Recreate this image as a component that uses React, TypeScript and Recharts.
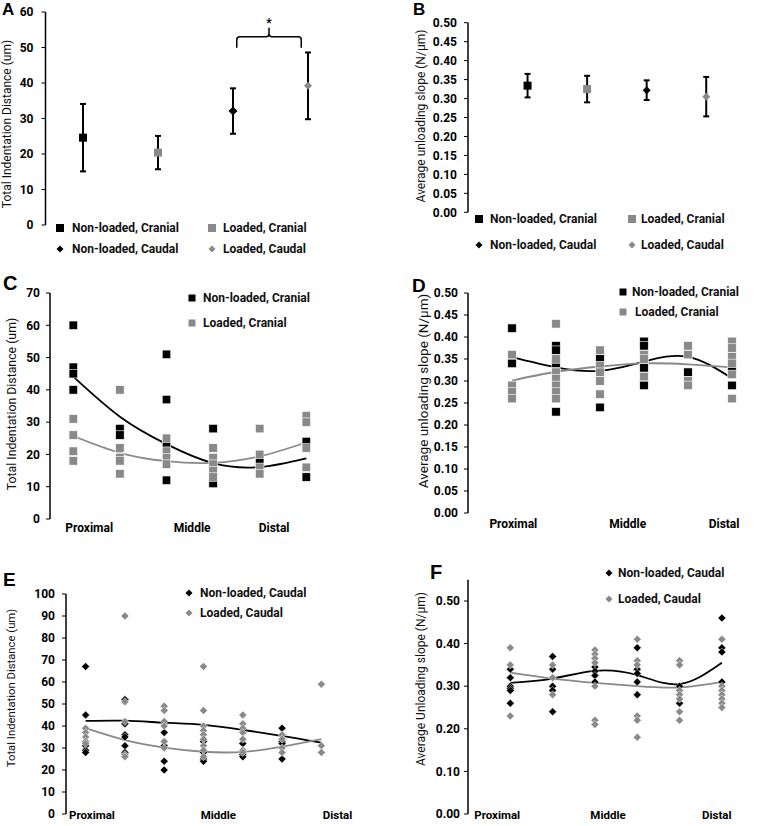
import React from 'react';
import { ComposedChart, Scatter, Line, XAxis, YAxis, ErrorBar, ReferenceLine } from 'recharts';

const FONT = 'Roboto, "Liberation Sans", sans-serif';
const BLACK = '#000000';
const GREY = '#898989';

// group names, in legend order
const groupNames = ['Non-loaded, Cranial', 'Loaded, Cranial', 'Non-loaded, Caudal', 'Loaded, Caudal'];

// A: total indentation distance, mean and SD per group
const indentMean = [24.6, 20.4, 32.1, 39.2];
const indentSd = [9.5, 4.7, 6.4, 9.4];

// B: average unloading slope, mean and SD per group
const slopeMean = [0.334, 0.325, 0.322, 0.305];
const slopeSd = [0.031, 0.035, 0.026, 0.052];

// C: cranial indentation, samples per site (proximal -> distal)
const cNonLoaded = [[60, 47, 45, 40], [28, 26], [51, 37, 23, 12], [28, 11], [18], [24, 13]];
const cLoaded = [[31, 26, 21, 18], [40, 22, 19, 18, 14], [25, 21, 19, 17], [22, 19, 17, 15, 13], [28, 20, 16, 14], [32, 30, 22, 16]];
const cTrendNonLoaded = [44.1, 31.7, 23.2, 17.3, 16.1, 18.8];
const cTrendLoaded = [25.7, 20.5, 17.9, 17.4, 19.4, 23.7];

// D: cranial unloading slope
const dNonLoaded = [[0.42, 0.34], [0.38, 0.37, 0.34, 0.23], [0.35, 0.24], [0.39, 0.38, 0.33, 0.29], [0.32], [0.33, 0.29]];
const dLoaded = [[0.36, 0.29, 0.275, 0.26], [0.43, 0.35, 0.32, 0.305, 0.29, 0.275, 0.26], [0.37, 0.335, 0.32, 0.30, 0.27], [0.36, 0.35, 0.31], [0.38, 0.36, 0.30, 0.29], [0.39, 0.375, 0.355, 0.34, 0.315, 0.26]];
const dTrendNonLoaded = [0.354, 0.331, 0.323, 0.344, 0.355, 0.306];
const dTrendLoaded = [0.301, 0.321, 0.333, 0.34, 0.338, 0.331];

// E: caudal indentation
const eNonLoaded = [[67, 45, 31, 29, 28], [52, 41, 36, 35, 31, 28], [37, 31, 24, 20], [33, 28, 25, 24], [32, 27, 26], [39, 33, 32, 25], []];
const eLoaded = [[39, 37, 35, 33, 32], [90, 51, 42, 27, 26], [49, 47, 42, 40, 33, 30], [67, 47, 40, 38, 36, 34, 31, 29, 26], [45, 41, 39, 37, 34, 29, 28], [36, 34, 30, 28], [59, 31, 28]];
const eTrendNonLoaded = [42.3, 42.4, 41.5, 40.5, 38.2, 35.5, 32.4];
const eTrendLoaded = [39, 33.6, 30.2, 28.3, 28.2, 30.6, 34];

// F: caudal unloading slope
const fNonLoaded = [[0.34, 0.32, 0.30, 0.295, 0.29, 0.26], [0.37, 0.34, 0.30, 0.29, 0.24], [0.345, 0.335, 0.325, 0.31], [0.39, 0.34, 0.33, 0.31, 0.28], [0.30, 0.26], [0.46, 0.39, 0.38, 0.31]];
const fLoaded = [[0.39, 0.35, 0.23], [0.35, 0.32, 0.28], [0.385, 0.375, 0.365, 0.355, 0.30, 0.22, 0.21], [0.41, 0.36, 0.35, 0.23, 0.22, 0.18], [0.36, 0.35, 0.29, 0.28, 0.27, 0.24, 0.22], [0.41, 0.30, 0.29, 0.28, 0.27, 0.26, 0.25]];
const fTrendNonLoaded = [0.308, 0.318, 0.336, 0.326, 0.305, 0.355];
const fTrendLoaded = [0.332, 0.318, 0.308, 0.30, 0.297, 0.31];

const siteLabels = ['Proximal', 'Middle', 'Distal'];
const cSiteAt = [1.34, 3.55, 5.31];
const dSiteAt = [1.03, 3.63, 5.82];
const eSiteAt = [1.16, 4.38, 7.41];
const fSiteAt = [0.69, 3.31, 5.88];

const toPoints = (cols: number[][]) => cols.flatMap((vals, i) => vals.map((y) => ({ x: i + 1, y })));
const toLine = (vals: number[]) => vals.map((y, i) => ({ x: i + 1, y }));

const square = (size: number, color: string, edge = false) => (props: any) => {
  const { cx, cy } = props;
  if (cx == null || cy == null) return <g />;
  return (
    <rect x={cx - size / 2} y={cy - size / 2} width={size} height={size} fill={color}
      stroke={edge ? '#ffffff' : 'none'} strokeWidth={0.6} />
  );
};

const diamond = (size: number, color: string, edge = false) => (props: any) => {
  const { cx, cy } = props;
  if (cx == null || cy == null) return <g />;
  const r = size / 2;
  return (
    <polygon points={`${cx},${cy - r} ${cx + r},${cy} ${cx},${cy + r} ${cx - r},${cy}`} fill={color}
      stroke={edge ? '#ffffff' : 'none'} strokeWidth={0.5} />
  );
};

// curly bracket drawn over the reference segment
const brace = (props: any) => {
  const { x1, x2, y1 } = props;
  const cx = (x1 + x2) / 2;
  const y = y1;
  const d = `M${x1},${y + 11} L${x1},${y + 3} Q${x1},${y} ${x1 + 3},${y} L${cx - 3},${y} Q${cx},${y} ${cx},${y - 3} L${cx},${y - 9}`
    + ` M${cx},${y - 3} Q${cx},${y} ${cx + 3},${y} L${x2 - 3},${y} Q${x2},${y} ${x2},${y + 3} L${x2},${y + 11}`;
  return (
    <g>
      <path d={d} fill="none" stroke={BLACK} strokeWidth={1.5} />
      <text x={cx} y={y - 10} textAnchor="middle" fontSize={12} fontWeight={700} fontFamily={FONT}>*</text>
    </g>
  );
};

const tickStyle = { fontSize: 12, fontWeight: 700, fill: '#000', fontFamily: FONT };

const PanelLetter = ({ x, y, size, text }: { x: number; y: number; size: number; text: string }) => (
  <div style={{ position: 'absolute', left: x, top: y - size * 0.13, fontSize: size, lineHeight: 1, fontWeight: 700, fontFamily: '"Liberation Sans", Arial, sans-serif' }}>{text}</div>
);

const AxisTitle = ({ x, y, size, text }: { x: number; y: number; size: number; text: string }) => (
  <div style={{ position: 'absolute', left: x, top: y, transform: 'translate(-50%, -50%) rotate(-90deg)', whiteSpace: 'nowrap', fontSize: size, fontFamily: FONT, color: '#111' }}>{text}</div>
);

const LegendItem = ({ x, y, textX, shape, color, size = 8, text }: any) => {
  const r = size / 2;
  return (
    <>
      <svg style={{ position: 'absolute', left: x - 6, top: y - 6 }} width={12} height={12}>
        {shape === 'square'
          ? <rect x={6 - r} y={6 - r} width={size} height={size} fill={color} />
          : <polygon points={`6,${6 - r} ${6 + r},6 6,${6 + r} ${6 - r},6`} fill={color} />}
      </svg>
      <div style={{ position: 'absolute', left: textX, top: y - 9, height: 18, lineHeight: '18px', fontSize: 12, fontWeight: 700, fontFamily: FONT, whiteSpace: 'nowrap', color: '#111' }}>{text}</div>
    </>
  );
};

type SiteProps = {
  left: number; top: number; width: number; height: number;
  plotLeft: number; plotTop: number; plotBottom: number; plotRight: number;
  xHeight: number; xDomain: [number, number]; siteAt: number[]; tickMargin: number; xFont?: number;
  yDomain: [number, number]; yTicks: number[]; yDigits: number; yTickMargin: number;
  nonLoaded: number[][]; loaded: number[][]; trendNonLoaded: number[]; trendLoaded: number[];
  marker: 'square' | 'diamond'; size: number;
};

const SitePanel = (p: SiteProps) => {
  const mk = p.marker === 'square' ? square : diamond;
  return (
    <div style={{ position: 'absolute', left: p.left, top: p.top }}>
      <ComposedChart width={p.width} height={p.height}
        margin={{ top: p.plotTop, left: 0, right: p.width - p.plotRight, bottom: p.height - p.plotBottom - p.xHeight }}>
        <XAxis dataKey="x" type="number" domain={p.xDomain} ticks={p.siteAt} interval={0}
          tickFormatter={(_v: number, i: number) => siteLabels[i]} axisLine={false} tickLine={false}
          tickSize={0} tickMargin={p.tickMargin} height={p.xHeight} tick={{ ...tickStyle, fontSize: p.xFont ?? 12 }} />
        <YAxis dataKey="y" type="number" domain={p.yDomain} ticks={p.yTicks} interval={0} width={p.plotLeft}
          tickFormatter={(v: number) => v.toFixed(p.yDigits)} axisLine={{ stroke: BLACK, strokeWidth: 1.5 }}
          tickLine={{ stroke: BLACK }} tickSize={4} tickMargin={p.yTickMargin} tick={tickStyle} />
        <Scatter data={toPoints(p.nonLoaded)} dataKey="y" shape={mk(p.size, BLACK, true)} isAnimationActive={false} />
        <Scatter data={toPoints(p.loaded)} dataKey="y" shape={mk(p.size, GREY, true)} isAnimationActive={false} />
        <Line data={toLine(p.trendNonLoaded)} dataKey="y" type="natural" stroke={BLACK} strokeWidth={1.8} dot={false} isAnimationActive={false} />
        <Line data={toLine(p.trendLoaded)} dataKey="y" type="natural" stroke={GREY} strokeWidth={1.8} dot={false} isAnimationActive={false} />
      </ComposedChart>
    </div>
  );
};

const groupShapes = ['square', 'square', 'diamond', 'diamond'];
const groupColors = [BLACK, GREY, BLACK, GREY];

const App = () => {
  const groupsA = groupNames.map((name, i) => ({ name, pts: [{ x: i + 1, y: indentMean[i], sd: indentSd[i] }] }));
  const groupsB = groupNames.map((name, i) => ({ name, pts: [{ x: i + 1, y: slopeMean[i], sd: slopeSd[i] }] }));
  const markA = [square(8, BLACK), square(8, GREY), diamond(9, BLACK), diamond(8, GREY)];
  const markB = [square(8, BLACK), square(8, GREY), diamond(8, BLACK), diamond(8, GREY)];

  return (
    <div style={{ position: 'absolute', left: 0, top: 0, width: 761, height: 826, background: '#fff', fontFamily: FONT, overflow: 'hidden' }}>
      {/* A */}
      <div style={{ position: 'absolute', left: 0, top: 0 }}>
        <ComposedChart width={380} height={260} margin={{ top: 12, left: 0, right: 34.5, bottom: 35 }}>
          <XAxis dataKey="x" type="number" domain={[0.5, 4.5]} hide />
          <YAxis dataKey="y" type="number" domain={[0, 60]} ticks={[0, 10, 20, 30, 40, 50, 60]} interval={0} width={45.5}
            axisLine={{ stroke: BLACK, strokeWidth: 1.5 }} tickLine={{ stroke: BLACK }} tickSize={4} tickMargin={8} tick={tickStyle} />
          {groupsA.map((g, i) => (
            <Scatter key={g.name} data={g.pts} dataKey="y" shape={markA[i]} isAnimationActive={false}>
              <ErrorBar dataKey="sd" direction="y" width={3} stroke={BLACK} strokeWidth={2} />
            </Scatter>
          ))}
          <ReferenceLine segment={[{ x: 3.05, y: 53 }, { x: 3.91, y: 53 }]} shape={brace} />
        </ComposedChart>
      </div>

      {/* B */}
      <div style={{ position: 'absolute', left: 380, top: 0 }}>
        <ComposedChart width={381} height={260} margin={{ top: 22.7, left: 0, right: 25, bottom: 47.7 }}>
          <XAxis dataKey="x" type="number" domain={[0, 4.5]} hide />
          <YAxis dataKey="y" type="number" domain={[0, 0.5]} ticks={[0, 0.05, 0.1, 0.15, 0.2, 0.25, 0.3, 0.35, 0.4, 0.45, 0.5]}
            interval={0} width={88} tickFormatter={(v: number) => v.toFixed(2)}
            axisLine={{ stroke: BLACK, strokeWidth: 1.5 }} tickLine={{ stroke: BLACK }} tickSize={4} tickMargin={7} tick={tickStyle} />
          {groupsB.map((g, i) => (
            <Scatter key={g.name} data={g.pts} dataKey="y" shape={markB[i]} isAnimationActive={false}>
              <ErrorBar dataKey="sd" direction="y" width={3} stroke={BLACK} strokeWidth={2} />
            </Scatter>
          ))}
        </ComposedChart>
      </div>

      {/* C */}
      <SitePanel left={0} top={260} width={380} height={290} plotLeft={50} plotTop={33} plotBottom={259} plotRight={329.6}
        xHeight={22} xDomain={[0.5, 6.5]} siteAt={cSiteAt} tickMargin={4}
        yDomain={[0, 70]} yTicks={[0, 10, 20, 30, 40, 50, 60, 70]} yDigits={0} yTickMargin={6}
        nonLoaded={cNonLoaded} loaded={cLoaded} trendNonLoaded={cTrendNonLoaded} trendLoaded={cTrendLoaded}
        marker="square" size={8.5} />

      {/* D */}
      <SitePanel left={380} top={260} width={381} height={290} plotLeft={88} plotTop={33} plotBottom={253} plotRight={374}
        xHeight={25} xDomain={[0, 6.5]} siteAt={dSiteAt} tickMargin={6}
        yDomain={[0, 0.5]} yTicks={[0, 0.05, 0.1, 0.15, 0.2, 0.25, 0.3, 0.35, 0.4, 0.45, 0.5]} yDigits={2} yTickMargin={6}
        nonLoaded={dNonLoaded} loaded={dLoaded} trendNonLoaded={dTrendNonLoaded} trendLoaded={dTrendLoaded}
        marker="square" size={8.5} />

      {/* E */}
      <SitePanel left={0} top={550} width={380} height={276} plotLeft={66} plotTop={44} plotBottom={264} plotRight={341}
        xHeight={12} xDomain={[0.5, 7.5]} siteAt={eSiteAt} tickMargin={-3} xFont={11.5}
        yDomain={[0, 100]} yTicks={[0, 10, 20, 30, 40, 50, 60, 70, 80, 90, 100]} yDigits={0} yTickMargin={7}
        nonLoaded={eNonLoaded} loaded={eLoaded} trendNonLoaded={eTrendNonLoaded} trendLoaded={eTrendLoaded}
        marker="diamond" size={8} />

      {/* F */}
      <SitePanel left={380} top={550} width={381} height={276} plotLeft={88} plotTop={29.7} plotBottom={264} plotRight={363}
        xHeight={12} xDomain={[0, 6.5]} siteAt={fSiteAt} tickMargin={-3} xFont={11.5}
        yDomain={[0, 0.55]} yTicks={[0, 0.1, 0.2, 0.3, 0.4, 0.5]} yDigits={2} yTickMargin={4}
        nonLoaded={fNonLoaded} loaded={fLoaded} trendNonLoaded={fTrendNonLoaded} trendLoaded={fTrendLoaded}
        marker="diamond" size={8} />

      {/* axis titles */}
      <AxisTitle x={7} y={124} size={12} text="Total Indentation Distance (um)" />
      <AxisTitle x={421} y={116} size={12} text="Average unloading slope (N/μm)" />
      <AxisTitle x={12} y={404} size={12.3} text="Total Indentation Distance (um)" />
      <AxisTitle x={423} y={391} size={13.5} text="Average unloading slope (N/μm)" />
      <AxisTitle x={11} y={688} size={11.3} text="Total Indentation Distance (um)" />
      <AxisTitle x={421} y={679} size={12} text="Average Unloading slope (N/μm)" />

      {/* legends A and B */}
      {groupNames.map((name, i) => (
        <LegendItem key={`a-${name}`} x={i % 2 === 0 ? 60 : 212} y={i < 2 ? 228 : 249} textX={i % 2 === 0 ? 72 : 223}
          shape={groupShapes[i]} color={groupColors[i]} size={i < 2 ? 8 : 7} text={name} />
      ))}
      {groupNames.map((name, i) => (
        <LegendItem key={`b-${name}`} x={i % 2 === 0 ? 479 : 632} y={i < 2 ? 219 : 245} textX={i % 2 === 0 ? 490 : 641}
          shape={groupShapes[i]} color={groupColors[i]} size={i < 2 ? 8 : 7} text={name} />
      ))}
      {/* legends C-F */}
      <LegendItem x={192} y={298} textX={203} shape="square" color={BLACK} size={7} text={groupNames[0]} />
      <LegendItem x={192} y={323} textX={203} shape="square" color={GREY} size={7} text={groupNames[1]} />
      <LegendItem x={623} y={292} textX={632} shape="square" color={BLACK} size={7} text={groupNames[0]} />
      <LegendItem x={623} y={312} textX={635} shape="square" color={GREY} size={7} text={groupNames[1]} />
      <LegendItem x={189} y={593} textX={200} shape="diamond" color={BLACK} size={7} text={groupNames[2]} />
      <LegendItem x={189} y={613} textX={200} shape="diamond" color={GREY} size={7} text={groupNames[3]} />
      <LegendItem x={609} y={573} textX={618} shape="diamond" color={BLACK} size={7} text={groupNames[2]} />
      <LegendItem x={609} y={599} textX={618} shape="diamond" color={GREY} size={7} text={groupNames[3]} />

      <PanelLetter x={2} y={3} size={17} text="A" />
      <PanelLetter x={413} y={3} size={17} text="B" />
      <PanelLetter x={3} y={276} size={20} text="C" />
      <PanelLetter x={412} y={278} size={19} text="D" />
      <PanelLetter x={3} y={572} size={19} text="E" />
      <PanelLetter x={430} y={565} size={20} text="F" />
    </div>
  );
};

export default App;
